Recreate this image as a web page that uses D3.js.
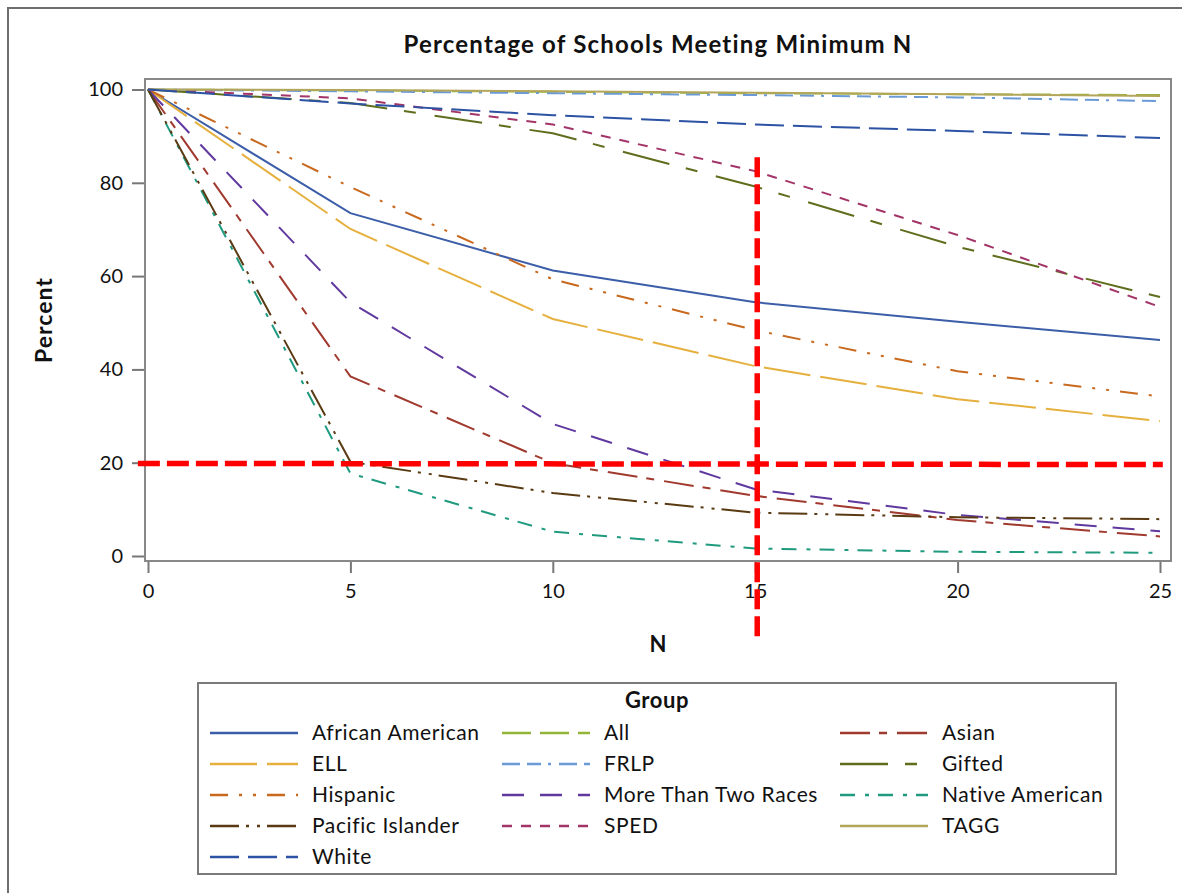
<!DOCTYPE html>
<html>
<head>
<meta charset="utf-8">
<script src="https://cdn.jsdelivr.net/npm/d3@7"></script>
<style>
  body { margin: 0; background: #fff; }
  text { font-family: Lato, "Open Sans", sans-serif; fill: #111; }
</style>
</head>
<body>
<div id="chart"></div>
<script>
const width = 1182, height = 893

// N values (x axis)
const nValues = [0, 5, 10, 15, 20, 25]

const groups = ["African American", "All", "Asian", "ELL", "FRLP", "Gifted",
  "Hispanic", "More Than Two Races", "Native American", "Pacific Islander",
  "SPED", "TAGG", "White"]

// percent of schools meeting minimum N
const pctAfricanAmerican = [100, 73.5, 61.2, 54.4, 50.2, 46.3]
const pctAll = [100, 99.8, 99.5, 99.2, 99.0, 98.8]
const pctAsian = [100, 38.5, 19.9, 12.9, 7.7, 4.2]
const pctELL = [100, 70.1, 50.8, 40.7, 33.6, 28.9]
const pctFRLP = [100, 99.6, 99.2, 98.8, 98.3, 97.5]
const pctGifted = [100, 97.1, 90.6, 79.2, 66.3, 55.5]
const pctHispanic = [100, 79.1, 59.3, 48.4, 39.6, 34.2]
const pctMoreThanTwo = [100, 54.4, 28.3, 14.3, 8.8, 5.3]
const pctNativeAmerican = [100, 17.7, 5.2, 1.6, 0.9, 0.7]
const pctPacificIslander = [100, 20.2, 13.5, 9.3, 8.3, 7.9]
const pctSPED = [100, 98.1, 92.5, 82.5, 68.8, 53.4]
const pctTAGG = [100, 99.9, 99.6, 99.3, 99.0, 98.6]
const pctWhite = [100, 97.0, 94.5, 92.5, 91.1, 89.6]

const seriesValues = [pctAfricanAmerican, pctAll, pctAsian, pctELL, pctFRLP, pctGifted,
  pctHispanic, pctMoreThanTwo, pctNativeAmerican, pctPacificIslander, pctSPED, pctTAGG, pctWhite]

const yTicks = [0, 20, 40, 60, 80, 100]
const xTicks = [0, 5, 10, 15, 20, 25]

// hand-drawn red guide lines (N, percent)
const guideH = [[-0.25, 19.85], [25.07, 19.6]]
const guideV = [[15.05, 85.5], [15.05, -17.3]]

const colors = ["#3c5ea8", "#93b537", "#a0392e", "#e6b03e", "#6b9bd6", "#5f6e1d",
  "#c8691e", "#60399f", "#1f9a7f", "#5a3a12", "#a33468", "#b3a65a", "#2c52a3"]
const dashes = [null, "29 9", "30 9 8 10", "47 10", "18 7 14 7 3 8", "48 17 12 19",
  "18 11 3 11 3 11", "22 16", "15 10 4 9", "29 7 3 8 3 7", "10 9", null, "29 9"]

const series = groups.map((g, i) => ({
  name: g,
  color: colors[i],
  dash: dashes[i],
  points: nValues.map((n, j) => ({ n: n, pct: seriesValues[i][j] }))
}))

const svg = d3.select("#chart").append("svg")
  .attr("width", width)
  .attr("height", height)

// outer border (only top and left visible)
svg.append("path")
  .attr("d", "M8," + height + " V8 H" + width)
  .attr("fill", "none")
  .attr("stroke", "#6e6e6e")
  .attr("stroke-width", 2)

const frame = { left: 145, top: 79, right: 1171, bottom: 561 }

const x = d3.scaleLinear().domain([0, 25]).range([148, 1160])
const y = d3.scaleLinear().domain([0, 100]).range([556, 89.5])

// title
svg.append("text")
  .attr("x", 658).attr("y", 53)
  .attr("text-anchor", "middle")
  .style("font-weight", "bold")
  .style("font-size", "24px")
  .style("letter-spacing", "1.2px")
  .text("Percentage of Schools Meeting Minimum N")

// axes
const yAxis = d3.axisLeft(y).tickValues(yTicks).tickSize(13).tickPadding(9)
const xAxis = d3.axisBottom(x).tickValues(xTicks).tickSize(12).tickPadding(11)

const gy = svg.append("g").attr("transform", `translate(${frame.left},0)`).call(yAxis)
const gx = svg.append("g").attr("transform", `translate(0,${frame.bottom})`).call(xAxis)

;[gy, gx].forEach(g => {
  g.select(".domain").remove()
  g.selectAll("line").attr("stroke", "#777").attr("stroke-width", 2)
  g.selectAll("text").style("font-size", "20px").style("font-family", "Lato, sans-serif").attr("fill", "#111")
})

svg.append("rect")
  .attr("x", frame.left).attr("y", frame.top)
  .attr("width", frame.right - frame.left)
  .attr("height", frame.bottom - frame.top)
  .attr("fill", "none")
  .attr("stroke", "#888")
  .attr("stroke-width", 2)

// axis labels
svg.append("text")
  .attr("transform", "translate(52,320) rotate(-90)")
  .attr("text-anchor", "middle")
  .style("font-weight", "bold").style("font-size", "23px")
  .style("letter-spacing", "1px")
  .text("Percent")

svg.append("text")
  .attr("x", 658).attr("y", 652)
  .attr("text-anchor", "middle")
  .style("font-weight", "bold").style("font-size", "22px")
  .text("N")

// lines
const line = d3.line().x(d => x(d.n)).y(d => y(d.pct))

svg.append("g").selectAll("path")
  .data(series)
  .join("path")
  .attr("d", d => line(d.points))
  .attr("fill", "none")
  .attr("stroke", d => d.color)
  .attr("stroke-width", 2)
  .attr("stroke-dasharray", d => d.dash)

// red guides
const guide = d3.line().x(d => x(d[0])).y(d => y(d[1]))
svg.append("path")
  .attr("d", guide(guideH))
  .attr("stroke", "#ff0000").attr("stroke-width", 5.5)
  .attr("stroke-dasharray", "22 7").attr("fill", "none")
svg.append("path")
  .attr("d", guide(guideV))
  .attr("stroke", "#ff0000").attr("stroke-width", 5.5)
  .attr("stroke-dasharray", "20 7").attr("fill", "none")

// legend
const legend = svg.append("g")
legend.append("rect")
  .attr("x", 198).attr("y", 683)
  .attr("width", 918).attr("height", 191)
  .attr("fill", "none")
  .attr("stroke", "#7a7a7a")
  .attr("stroke-width", 2)

legend.append("text")
  .attr("x", 657).attr("y", 708)
  .attr("text-anchor", "middle")
  .style("font-weight", "bold").style("font-size", "22px")
  .style("letter-spacing", "0.6px")
  .text("Group")

const colX = [210, 502, 840]
const rowY = [733, 764, 795, 826, 857]

const items = legend.selectAll(".item")
  .data(series)
  .join("g")
  .attr("class", "item")
  .attr("transform", (d, i) => `translate(${colX[i % 3]},${rowY[Math.floor(i / 3)]})`)

items.append("line")
  .attr("x1", 0).attr("x2", 88)
  .attr("stroke", d => d.color)
  .attr("stroke-width", 2.5)
  .attr("stroke-dasharray", d => d.dash)

items.append("text")
  .attr("x", 102).attr("dy", "0.35em")
  .style("font-size", "21px")
  .style("letter-spacing", "0.6px")
  .text(d => d.name)
</script>
</body>
</html>
